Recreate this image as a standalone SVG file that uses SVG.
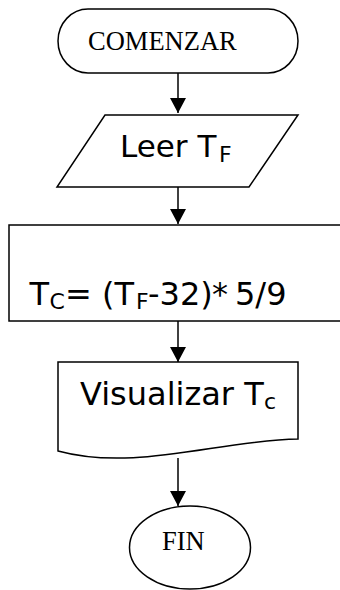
<svg xmlns="http://www.w3.org/2000/svg" width="340" height="590" viewBox="0 0 340 590">
  <style>
    .shape { fill: #ffffff; stroke: #000000; stroke-width: 1.5; }
    .conn { stroke: #000000; stroke-width: 1.5; fill: none; }
    .serif { font-family: "Liberation Serif", "Times New Roman", serif; font-size: 26.5px; fill: #000; }
    .sans { font-family: "DejaVu Sans", Verdana, sans-serif; font-size: 31px; fill: #000; }
    .big { font-size: 32px; }
    .sub { font-size: 22px; }
  </style>
  <defs>
    <marker id="arrow" markerUnits="userSpaceOnUse" markerWidth="15" markerHeight="16" refX="15" refY="8" orient="auto">
      <path d="M0,0 L15,8 L0,16 Z" fill="#000"/>
    </marker>
  </defs>
  <rect width="340" height="590" fill="#ffffff"/>
  <g id="connectors">
    <line class="conn" x1="178" y1="73" x2="178" y2="113" marker-end="url(#arrow)"/>
    <line class="conn" x1="178" y1="187" x2="178" y2="224" marker-end="url(#arrow)"/>
    <line class="conn" x1="178" y1="321" x2="178" y2="362" marker-end="url(#arrow)"/>
    <line class="conn" x1="178" y1="458" x2="178" y2="506" marker-end="url(#arrow)"/>
  </g>
  <g id="start">
    <rect class="shape" x="58" y="9" width="240" height="64" rx="30" ry="32"/>
    <text class="serif" x="88" y="50">COMENZAR</text>
  </g>
  <g id="input">
    <polygon class="shape" points="105,115 298,115 249,187 57,187"/>
    <text class="sans" x="120" y="157">Leer T<tspan class="sub" x="219" y="162">F</tspan></text>
  </g>
  <g id="process">
    <rect class="shape" x="9" y="225" width="340" height="96"/>
    <text class="sans big" y="305"><tspan x="29.5">T</tspan><tspan class="sub" x="49.5" y="309">C</tspan><tspan x="65" y="305">= (</tspan><tspan x="114.5">T</tspan><tspan class="sub" x="136" y="309">F</tspan><tspan x="148" y="305">-32)</tspan><tspan x="212">*</tspan><tspan x="235">5/9</tspan></text>
  </g>
  <g id="output">
    <path class="shape" d="M58,362 L298,362 L298,439 C220,440 135,472 58,451 Z"/>
    <text class="sans big" x="80" y="405">Visualizar T<tspan class="sub" x="264" y="409">c</tspan></text>
  </g>
  <g id="end">
    <ellipse class="shape" cx="190" cy="547.5" rx="60.5" ry="41.5"/>
    <text class="serif" x="162" y="550">FIN</text>
  </g>
</svg>
